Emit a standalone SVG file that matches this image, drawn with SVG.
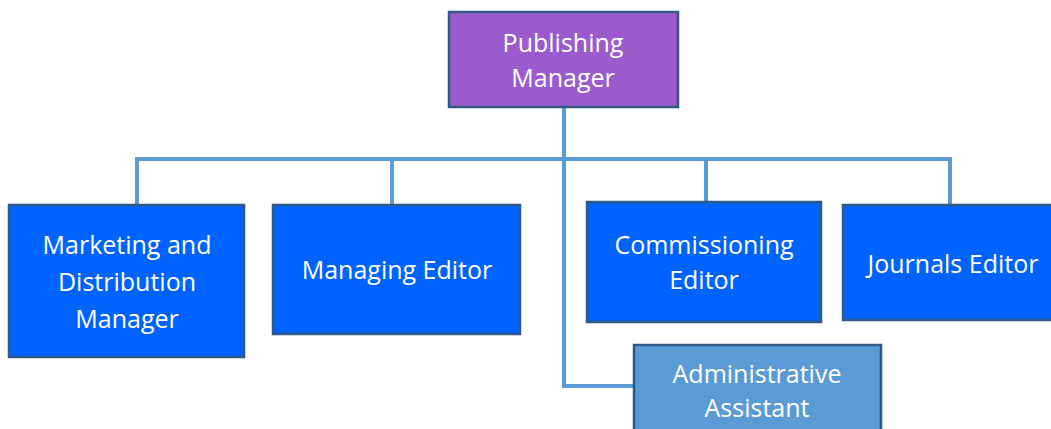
<svg xmlns="http://www.w3.org/2000/svg" width="1051" height="429" viewBox="0 0 1051 429">
<style>
.box{stroke:#2f5a86;stroke-width:2.5}
.mgr{fill:#9b5bcd}
.blue{fill:#0063fe}
.adm{fill:#5b9bd5}
text{font-family:"Open Sans","Liberation Sans",sans-serif;font-size:25px;fill:#ffffff;text-anchor:middle}
.conn{fill:none;stroke:#5b9bd5;stroke-width:4}
</style>
<rect width="1051" height="429" fill="#ffffff"/>
<g id="connectors">
<path class="conn" d="M564 107 V386 H634"/>
<path class="conn" d="M137 205 V159 H950 V205"/>
<path class="conn" d="M392 159 V205"/>
<path class="conn" d="M706 159 V202"/>
</g>
<g id="publishing-manager">
<rect class="box mgr" x="449" y="12" width="229" height="95"/>
<text x="563" y="52">Publishing</text>
<text x="563" y="87">Manager</text>
</g>
<g id="marketing">
<rect class="box blue" x="9" y="205" width="235" height="152"/>
<text x="127" y="254">Marketing and</text>
<text x="127" y="291">Distribution</text>
<text x="127" y="328">Manager</text>
</g>
<g id="managing-editor">
<rect class="box blue" x="273" y="205" width="247" height="129"/>
<text x="397" y="279">Managing Editor</text>
</g>
<g id="commissioning-editor">
<rect class="box blue" x="587" y="202" width="234" height="120"/>
<text x="704" y="254">Commissioning</text>
<text x="704" y="289">Editor</text>
</g>
<g id="journals-editor">
<rect class="box blue" x="843" y="205" width="215" height="115"/>
<text x="953" y="273">Journals Editor</text>
</g>
<g id="administrative-assistant">
<rect class="box adm" x="634" y="345" width="247" height="95"/>
<text x="757" y="383">Administrative</text>
<text x="757" y="417">Assistant</text>
</g>
</svg>
